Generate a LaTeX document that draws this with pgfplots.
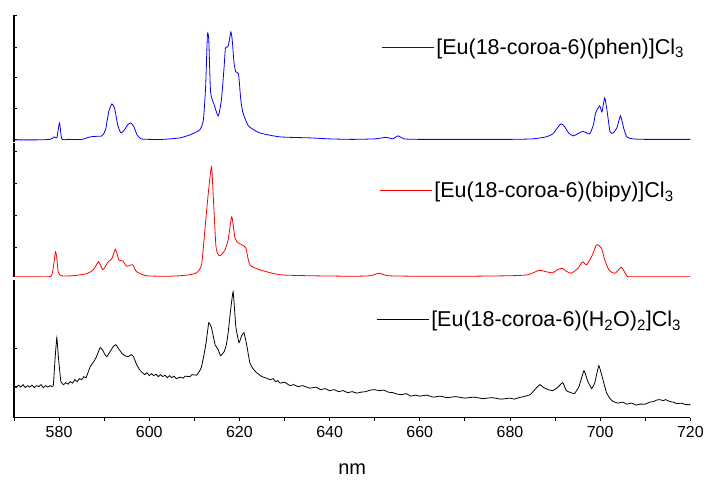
\documentclass[border=0pt]{standalone}
\usepackage{pgfplots}
\usepackage{pgfplotstable}
\pgfplotsset{compat=1.18}
\usepackage{fontspec}
\setmainfont{Liberation Sans}

% y values are given as distance from the top of the figure (pixels)
\pgfplotstableread{
570 140
575 140
578 139.5
579 137
579.5 138
580.1 123
580.6 139
582 139.5
585 139.5
586.9 137
588 136.5
589.5 136
590.3 130
591 112
591.7 104
592.3 108
593 125
593.7 133
594.5 130
595.2 125
595.9 123
596.6 127
597.3 135
598.2 139
600 139.5
603 139.5
606.8 138
609 135
611.2 130
612 120
612.5 87
612.9 35
613.2 40
613.6 92
614.4 105
615.3 116
616 100
616.6 67
616.9 48
617.4 47
617.7 42
618.1 32
618.4 40
618.8 63
619.2 72
619.8 74
620.3 100
620.8 113
622 126
624.5 133
629 137
635.6 138
640 139
645 139.5
650 139
652.5 137.5
654 139
655.2 136
656.5 139
660 139.5
670 139.5
680 139.5
685 139
688 137
689.5 134
690.5 128
691.3 124
692 126
693 133
694 136
695 134
696.1 131.5
697 133
697.7 134
698.5 125
699 113
699.9 106
700.4 112
701 98
701.5 110
702.2 132
702.9 133
703.7 128
704.5 116
705.2 128
705.9 137
707.3 139
710 139.5
720 139.5
}\phen

\pgfplotstableread{
570 277
575 277
578.2 276.5
578.8 265
579.2 252
579.5 258
579.8 272
580.5 276
583 276
586.1 274
587.6 270
588.8 262
589.7 270
590.9 262
591.7 259
592.5 249.5
593.3 260.5
594.1 261
595 266.5
596.3 265
597.2 272
599.4 276
603.9 276.5
606.8 276
609 275
610.5 273
611.6 265
612.4 227
613.1 193
613.8 167
614.2 197
614.8 247
615.5 256
616.2 254
616.8 250
617.5 240
618.3 217
619 238
619.7 243
620.5 245
621.4 248
622.3 265
624.5 270
629 275
635.6 276
645 276.5
649 276
651 273.5
653 276
660 276.5
670 276.5
680 276
684 275
686.5 270.5
688 272
689.5 273
690.5 270
691.6 268.5
692.5 271.5
693.6 273.5
695.1 268.5
696.1 262
697 265
698.3 255
699.2 245
700.3 248.5
701 260
702 270.5
703.3 273.5
704.7 267.5
705.9 276
707 277
720 277
}\bipy

\pgfplotstableread{
570 386
570.5 388
571 385.5
571.5 387.5
572 385
572.5 388
573 386
573.5 387.5
574 385.5
574.5 388
575 386
575.5 387
576 385
576.5 388
577 386
577.5 387.5
578 386
578.7 386.5
579.1 360
579.5 338
579.9 360
580.4 382
581 385
581.5 383
582 384.5
582.5 382
583 383.5
583.5 380
584 382
584.5 379
585 380
585.5 377
586 378
586.9 367
587.7 362
588.3 357
589.1 348
589.6 350
590.2 355
590.6 357
591.3 352
592 347
592.6 345
593.2 349
594 354
594.6 356
595.3 357
596 355
596.5 357
597.2 365
598 371
598.5 373
599 375
599.5 373
600 376
600.5 374
601 376
601.5 374.5
602 377
602.5 375
603 377
603.5 375.5
604 378
604.5 376
605 378
605.5 376.5
606 379
606.8 377.5
607.5 378.5
608 376.5
609 377
609.5 375
610.5 375.5
611.2 371
611.6 367
612.1 356
612.6 343
613.2 323
613.8 328
614.6 345
615.3 350
615.8 356
616.6 352
617.1 345
617.5 333
618 312
618.6 292
619.2 327
619.9 343
620.5 336
621 333
621.6 345
622.3 363
623 369
623.8 373
625 377
626 378.5
626.8 380
627.5 379
628 382
628.5 381
629 383.5
630 382.5
631.2 386
632 385
633 387
634 386
635.6 388.5
637 387.5
638 390
639 389
640 391
641 390
642 392
643 391
644 393
645 392
646 393.5
647 392.5
648 392
649 390.5
650 390
651 391
652 390.5
653 392.5
654 393
655 394.5
656 395
657 394
658 396.5
659 395.5
660 396.5
661.5 395.5
663 397.5
664.5 396.5
666 398
668 397
670 398.5
672 397.5
674 399
676 398
678 399.5
680 398.5
681 399.5
682 398
683 397
684.5 395
685.5 390
686.6 385
687.5 388
688.5 390
689.5 391
690.5 388
691.7 383
692.5 391
693.5 393
694.3 394
695.3 387
696.4 371
697.2 381
698.1 389
698.8 383
699.7 366
700.5 378
701.4 393
702.2 399
702.9 402
704 403.5
705 402.5
705.9 404.5
707 403.5
708 405.5
708.8 404.5
710 404.5
711 402.5
711.8 402
712.5 400.5
713.2 400
714 401
714.5 400
715.5 402
716.2 402.5
717 404
718 403.5
719 405
720 405
}\water

\begin{document}
\begin{tikzpicture}
\pgfplotsset{
  panel/.style={
    scale only axis, width=677pt,
    xmin=570, xmax=720,
    axis line style={line width=1.1pt, -},
    ytick align=inside,
    major tick length=3.5pt,
    minor tick length=3.5pt,
    yticklabels={},
    every tick/.style={line width=0.9pt, black},
    every minor tick/.style={line width=0.9pt, black},
    legend style={draw=none, fill=none, inner sep=0pt, outer sep=0pt,
      font=\fontsize{21.5}{23}\selectfont, cells={anchor=west}, anchor=west},
  },
}
% top panel
\begin{axis}[panel,
  at={(14pt,-142pt)}, anchor=south west, height=127pt,
  ymin=-142, ymax=-15,
  axis x line=none, axis y line*=left,
  ytick={-140,-109,-78,-47,-15},
  legend style={at={(0.5436,0.745)}},
  legend image code/.code={\draw[blue, line width=0.8pt] (0pt,0pt)--(52pt,0pt);},
]
\addplot[blue, line width=0.8pt, smooth, tension=0.35] table[x index=0, y expr=-\thisrowno{1}] {\phen};
\addlegendentry{[Eu(18-coroa-6)(phen)]Cl\textsubscript{3}}
\end{axis}
% middle panel
\begin{axis}[panel,
  at={(14pt,-277pt)}, anchor=south west, height=134pt,
  ymin=-277, ymax=-143,
  axis x line=none, axis y line*=left,
  ytick={-248,-216,-184,-152},
  legend style={at={(0.5406,0.642)}},
  legend image code/.code={\draw[red, line width=0.8pt] (0pt,0pt)--(52pt,0pt);},
]
\addplot[red, line width=0.8pt, smooth, tension=0.35] table[x index=0, y expr=-\thisrowno{1}] {\bipy};
\addlegendentry{[Eu(18-coroa-6)(bipy)]Cl\textsubscript{3}}
\end{axis}
% bottom panel
\begin{axis}[panel,
  at={(14pt,-418pt)}, anchor=south west, height=138pt,
  ymin=-418, ymax=-280,
  axis x line*=bottom, axis y line*=left,
  xtick align=outside,
  ytick={-387,-349},
  xtick={580,600,...,720},
  minor xtick={570,590,...,710},
  /pgf/number format/assume math mode=true,
  /pgf/number format/set thousands separator={},
  xticklabel style={font=\fontsize{16}{18}\selectfont, yshift=-2pt},
  xlabel={nm},
  every axis x label/.style={at={(axis description cs:0.5,0)}, anchor=center, yshift=-52pt, font=\fontsize{20}{22}\selectfont},
  legend style={at={(0.536,0.71)}},
  legend image code/.code={\draw[black, line width=0.8pt] (0pt,0pt)--(52pt,0pt);},
]
\addplot[black, line width=0.8pt, smooth, tension=0.2] table[x index=0, y expr=-\thisrowno{1}] {\water};
\addlegendentry{[Eu(18-coroa-6)(H\textsubscript{2}O)\textsubscript{2}]Cl\textsubscript{3}}
\end{axis}
\path[use as bounding box] (0pt,0pt) rectangle (707pt,-483pt);
\end{tikzpicture}
\end{document}
